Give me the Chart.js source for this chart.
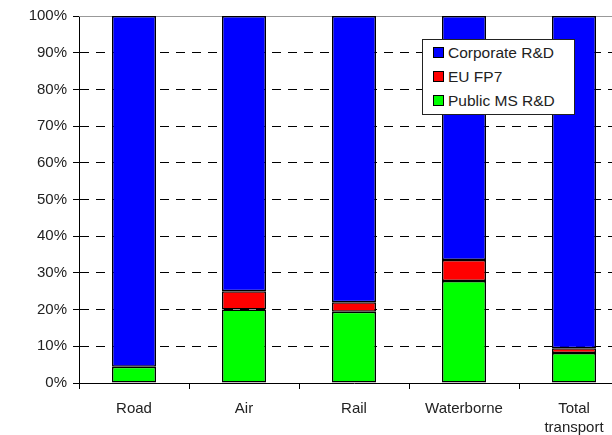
<!DOCTYPE html>
<html lang="en">
<head>
  <meta charset="UTF-8">
  <title>Transport R&amp;D funding shares</title>
  <script src="https://cdn.jsdelivr.net/npm/chart.js"></script>
  <style>
    html, body { margin: 0; padding: 0; background: #fff; overflow: hidden; }
    .wrap { position: relative; width: 640px; height: 435px; }
    .legend {
      position: absolute; left: 422px; top: 39px; width: 151px; height: 74px;
      border: 1px solid #222; background: #fff;
      font: 15.5px "Liberation Sans", Arial, sans-serif; color: #222;
    }
    .legend div { position: absolute; left: 10px; height: 16px; line-height: 16px; white-space: nowrap; }
    .legend span {
      display: inline-block; width: 9px; height: 9px; border: 1px solid #000;
      margin-right: 4px; vertical-align: 0px;
    }
  </style>
</head>
<body>
  <div class="wrap">
    <canvas id="chart" width="640" height="435"></canvas>
    <div class="legend">
      <div style="top:5px"><span style="background:#0000ff"></span>Corporate R&amp;D</div>
      <div style="top:29px"><span style="background:#ff0000"></span>EU FP7</div>
      <div style="top:53px"><span style="background:#00ff00"></span>Public MS R&amp;D</div>
    </div>
  </div>

  <script>
    const categories = ["Road", "Air", "Rail", "Waterborne", ["Total", "transport"]];
    const publicMS = [4.4, 20, 19.4, 27.8, 8.2];
    const euFP7 = [0, 5, 2.6, 5.7, 1.3];
    const corporate = [95.6, 75, 78, 66.5, 90.5];

    const font = { family: "'Liberation Sans', Arial, sans-serif", size: 15, lineHeight: 1.3 };

    // solid grey line along the top of the plot
    const topLine = {
      id: "topLine",
      beforeDatasetsDraw(chart) {
        const { ctx, chartArea } = chart;
        ctx.save();
        ctx.strokeStyle = "#999";
        ctx.lineWidth = 1;
        ctx.beginPath();
        ctx.moveTo(chartArea.left, chartArea.top + 0.5);
        ctx.lineTo(chartArea.right, chartArea.top + 0.5);
        ctx.stroke();
        ctx.restore();
      }
    };

    function bar(label, data, color) {
      return {
        label, data,
        backgroundColor: color,
        borderColor: "#000",
        borderWidth: 1.5,
        borderSkipped: false,
        categoryPercentage: 1,
        barPercentage: 0.4
      };
    }

    new Chart(document.getElementById("chart"), {
      type: "bar",
      data: {
        labels: categories,
        datasets: [
          bar("Public MS R&D", publicMS, "#00ff00"),
          bar("EU FP7", euFP7, "#ff0000"),
          bar("Corporate R&D", corporate, "#0000ff")
        ]
      },
      options: {
        responsive: false,
        animation: false,
        layout: { padding: { top: 16, right: 11, left: 0, bottom: 0 } },
        plugins: { legend: { display: false }, tooltip: { enabled: false } },
        scales: {
          x: {
            stacked: true,
            grid: { drawOnChartArea: false, drawTicks: true, tickLength: 6, color: "#000", tickColor: "#000" },
            border: { display: true, color: "#000", width: 1 },
            ticks: { color: "#222", font, padding: 10, maxRotation: 0 },
            afterFit(s) { s.height = 52; }
          },
          y: {
            stacked: true,
            min: 0, max: 100,
            grid: {
              color: c => (c.tick && (c.tick.value === 100 || c.tick.value === 0)) ? "rgba(0,0,0,0)" : "#000",
              tickColor: "#000",
              tickLength: 6,
              tickBorderDash: [],
              lineWidth: 1
            },
            border: { display: true, color: "#000", width: 1, dash: [9, 7] },
            ticks: { stepSize: 10, color: "#222", font, padding: 6, callback: v => v + "%" },
            afterFit(s) { s.width = 79; }
          }
        }
      },
      plugins: [topLine]
    });
  </script>
</body>
</html>
